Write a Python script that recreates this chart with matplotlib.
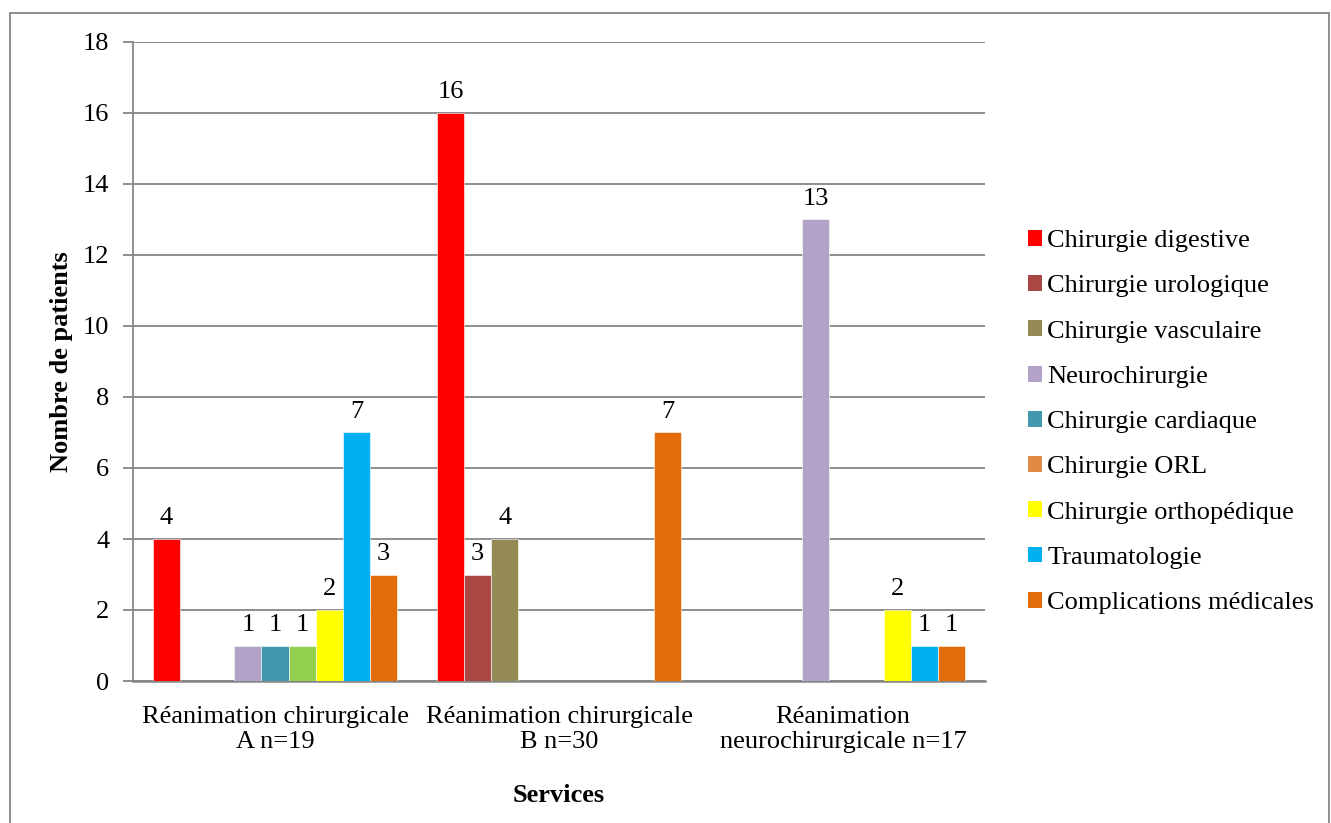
import matplotlib
matplotlib.use("Agg")
import matplotlib.pyplot as plt
from matplotlib.patches import Patch, Rectangle
import numpy as np

plt.rcParams['font.family'] = ['Liberation Serif', 'DejaVu Serif']

categories = ["Réanimation chirurgicale\nA n=19",
              "Réanimation chirurgicale\nB n=30",
              "Réanimation\nneurochirurgicale n=17"]
series_names = ["Chirurgie digestive", "Chirurgie urologique", "Chirurgie vasculaire",
                "Neurochirurgie", "Chirurgie cardiaque", "Chirurgie ORL",
                "Chirurgie orthopédique", "Traumatologie", "Complications médicales"]
digestive = [4, 16, 0]
urologique = [0, 3, 0]
vasculaire = [0, 4, 0]
neuro = [1, 0, 13]
cardiaque = [1, 0, 0]
orl = [1, 0, 0]
ortho = [2, 0, 2]
trauma = [7, 0, 1]
complications = [3, 7, 1]
values = [digestive, urologique, vasculaire, neuro, cardiaque, orl, ortho, trauma, complications]

colors = ["#FF0000", "#AA4643", "#948A54", "#B2A2C7", "#4398B0", "#E08A45",
          "#FFFF00", "#00B0F0", "#E36C0A"]
# the ORL bar in group A is drawn green in the original
bar_color_override = {(5, 0): "#92D050"}

FS = 19

fig = plt.figure(figsize=(13.31, 8.23), dpi=100)
ax = fig.add_axes([133/1331, 1-681/823, (985-133)/1331, (681-42)/823])

n = len(series_names)
group_w = 0.86
bw = group_w / n
x = np.arange(len(categories))
for i, (name, vals) in enumerate(zip(series_names, values)):
    pos = x - group_w/2 + bw*(i+0.5)
    cols = [bar_color_override.get((i, j), colors[i]) for j in range(len(vals))]
    bars = ax.bar(pos, vals, width=bw, color=cols, zorder=3, edgecolor='white', linewidth=0.4)
    for b, v in zip(bars, vals):
        if v > 0:
            ax.annotate(f"{v}", (b.get_x()+b.get_width()/2, v), xytext=(0, 7),
                        textcoords='offset points', ha='center', va='bottom', fontsize=FS)

ax.set_xlim(-0.5, len(categories)-0.5)
ax.set_ylim(0, 18)
ax.set_yticks(np.arange(0, 19, 2))
ax.yaxis.grid(True, color='#868686', linewidth=1.3, zorder=0)
ax.set_axisbelow(True)
for s in ['top', 'right']:
    ax.spines[s].set_visible(False)
ax.spines['left'].set_color('#868686')
ax.spines['left'].set_linewidth(1.3)
ax.spines['bottom'].set_color('#868686')
ax.spines['bottom'].set_linewidth(1.8)
ax.tick_params(axis='y', colors='#868686', labelcolor='black', labelsize=FS, length=7, width=1.3, pad=10)
ax.set_xticks(x)
ax.set_xticklabels(categories, fontsize=FS, linespacing=1.2)
ax.tick_params(axis='x', length=0, pad=18)
ax.set_ylabel("Nombre de patients", fontsize=FS, fontweight='bold', labelpad=7)
ax.set_xlabel("Services", fontsize=FS, fontweight='bold', labelpad=22)

handles = [Patch(facecolor=c, edgecolor='none') for c in colors]
fig.legend(handles, series_names, loc='center left', bbox_to_anchor=(1017/1331, 1-422/823),
           frameon=False, fontsize=FS, handlelength=0.55, handleheight=0.55,
           handletextpad=0.2, labelspacing=0.87, borderaxespad=0)

fig.patches.append(Rectangle((10/1331, -0.02), (1329-10)/1331, 1-13/823+0.02,
                             transform=fig.transFigure, fill=False, edgecolor='#868686',
                             linewidth=1.3, zorder=0))

fig.savefig("out.png", dpi=100)
